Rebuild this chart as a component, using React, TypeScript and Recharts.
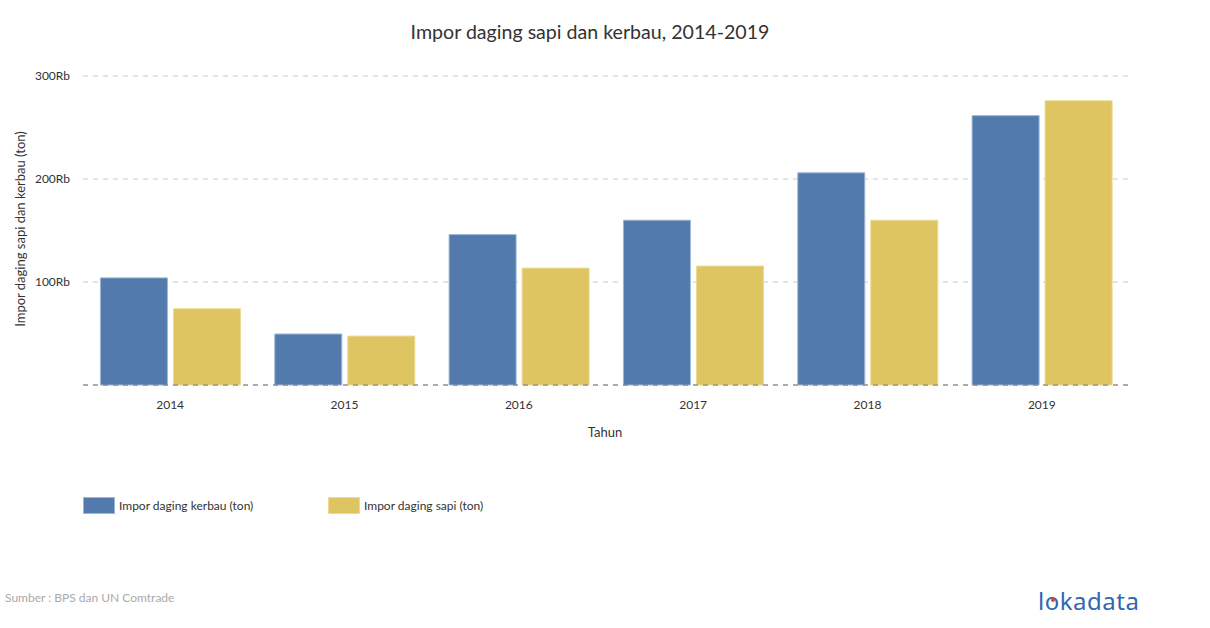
import {
  BarChart, Bar, XAxis, YAxis, CartesianGrid, ReferenceLine,
} from 'recharts';

const years = ['2014', '2015', '2016', '2017', '2018', '2019'];
const kerbau = [104000, 49500, 146000, 160000, 206000, 261500];
const sapi = [74000, 47500, 113500, 115500, 160000, 276000];
const yTicks = [0, 100000, 200000, 300000];

const BLUE = '#527aad';
const YELLOW = '#dec561';
const FONT = 'Lato, "Open Sans", sans-serif';

const data = years.map((year, i) => ({ year, kerbau: kerbau[i], sapi: sapi[i] }));

export default function App() {
  return (
    <div
      style={{
        position: 'absolute', top: 0, left: 0, width: 1210, height: 628,
        background: '#fff', fontFamily: FONT, color: '#333', overflow: 'hidden',
      }}
    >
      <div style={{ position: 'absolute', top: 20, left: 0, width: 1180, textAlign: 'center', fontSize: 19.6 }}>
        Impor daging sapi dan kerbau, 2014-2019
      </div>

      <BarChart
        width={1210}
        height={628}
        data={data}
        margin={{ top: 76, right: 81, left: 0, bottom: 213 }}
        barCategoryGap="10%"
        barGap={6}
      >
        <CartesianGrid vertical={false} stroke="#c8c8c8" strokeDasharray="5 5" />
        <XAxis
          dataKey="year"
          height={30}
          axisLine={false}
          tickLine={false}
          tickMargin={9}
          tick={{ fill: '#333', fontSize: 12, fontFamily: FONT }}
        />
        <YAxis
          width={83}
          domain={[0, 300000]}
          ticks={yTicks}
          axisLine={false}
          tickLine={false}
          tickMargin={7}
          tick={{ fill: '#333', fontSize: 12, fontFamily: FONT }}
          tickFormatter={(v: number) => (v === 0 ? '' : `${v / 1000}Rb`)}
        />
        <Bar dataKey="kerbau" fill={BLUE} stroke="#9db6d6" strokeWidth={1} isAnimationActive={false} />
        <Bar dataKey="sapi" fill={YELLOW} stroke="#ecdb92" strokeWidth={1} isAnimationActive={false} />
        <ReferenceLine y={0} stroke="#777" strokeDasharray="5 5" />
      </BarChart>

      <div
        style={{
          position: 'absolute', left: 20, top: 229, transform: 'translate(-50%, -50%) rotate(-90deg)',
          fontSize: 13, whiteSpace: 'nowrap',
        }}
      >
        Impor daging sapi dan kerbau (ton)
      </div>

      <div style={{ position: 'absolute', top: 424, left: 0, width: 1210, textAlign: 'center', fontSize: 13 }}>
        Tahun
      </div>

      <div style={{ position: 'absolute', top: 497, left: 83, display: 'flex', alignItems: 'center', fontSize: 12 }}>
        <span style={{ width: 30, height: 15, background: BLUE, border: '1px solid #9db6d6', display: 'inline-block' }} />
        <span style={{ marginLeft: 4 }}>Impor daging kerbau (ton)</span>
      </div>
      <div style={{ position: 'absolute', top: 497, left: 328, display: 'flex', alignItems: 'center', fontSize: 12 }}>
        <span style={{ width: 30, height: 15, background: YELLOW, border: '1px solid #ecdb92', display: 'inline-block' }} />
        <span style={{ marginLeft: 4 }}>Impor daging sapi (ton)</span>
      </div>

      <div style={{ position: 'absolute', top: 590, left: 5, fontSize: 12, color: '#aaa' }}>
        Sumber : BPS dan UN Comtrade
      </div>

      <div
        style={{
          position: 'absolute', top: 584, left: 1038, fontSize: 24, color: '#2f67b1',
          fontFamily: '"Noto Sans", sans-serif', letterSpacing: 0.5,
        }}
      >
        l<span style={{ position: 'relative' }}>o<span style={{ position: 'absolute', left: 6, top: 14, width: 4, height: 4, borderRadius: 2, background: '#e0413a' }} /></span>kadata
      </div>
    </div>
  );
}
